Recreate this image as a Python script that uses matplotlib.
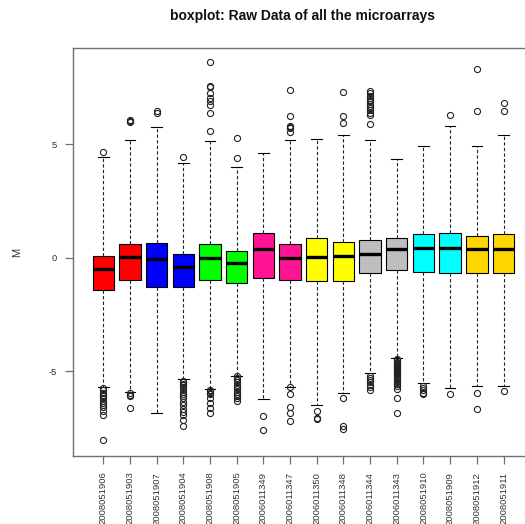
import matplotlib

matplotlib.use("Agg")

import matplotlib.pyplot as plt

plt.rcParams["font.family"] = ["Liberation Sans", "DejaVu Sans"]

# per-array summaries of M (log-ratio), one entry per microarray
samples = [
    "2008051906", "2008051903", "2008051907", "2008051904",
    "2008051908", "2008051905", "2006011349", "2006011347",
    "2006011350", "2006011348", "2006011344", "2006011343",
    "2008051910", "2008051909", "2008051912", "2008051911",
]
box_colors = [
    "#FF0000", "#FF0000", "#0000FF", "#0000FF",
    "#00FF00", "#00FF00", "#FF1493", "#FF1493",
    "#FFFF00", "#FFFF00", "#BEBEBE", "#BEBEBE",
    "#00FFFF", "#00FFFF", "#FFD700", "#FFD700",
]
medians = [-0.51, 0.03, -0.07, -0.40, -0.02, -0.22, 0.40, -0.02,
           0.03, 0.06, 0.18, 0.38, 0.45, 0.42, 0.38, 0.38]
q1 = [-1.40, -1.00, -1.28, -1.28, -1.00, -1.13, -0.90, -1.00,
      -1.03, -1.03, -0.66, -0.52, -0.62, -0.66, -0.68, -0.66]
q3 = [0.07, 0.63, 0.66, 0.15, 0.62, 0.28, 1.10, 0.59,
      0.88, 0.69, 0.79, 0.86, 1.06, 1.08, 0.98, 1.04]
whisker_lo = [-5.68, -5.90, -6.86, -5.36, -5.80, -5.21, -6.24, -5.68,
              -6.51, -5.95, -5.10, -4.44, -5.51, -5.73, -5.66, -5.66]
whisker_hi = [4.43, 5.18, 5.77, 4.18, 5.17, 3.99, 4.63, 5.18,
              5.26, 5.43, 5.21, 4.36, 4.92, 5.80, 4.92, 5.43]
outliers = [
    [4.67, -5.75, -5.85, -5.95, -6.05, -6.10, -6.20, -6.30, -6.40, -6.50,
     -6.60, -6.75, -6.95, -8.03],
    [6.00, 6.05, 6.10, -5.98, -6.04, -6.08, -6.61],
    [6.40, 6.46],
    [4.45, -5.45, -5.50, -5.55, -5.60, -5.70, -5.80, -5.90, -6.00, -6.10,
     -6.20, -6.35, -6.50, -6.65, -6.80, -6.95, -7.15, -7.40],
    [8.62, 7.60, 7.52, 7.27, 7.05, 6.93, 6.72, 6.39, 5.58, -5.82, -5.88,
     -5.95, -6.00, -6.17, -6.39, -6.61, -6.83],
    [5.27, 4.40, -5.22, -5.30, -5.40, -5.50, -5.60, -5.70, -5.80, -5.90,
     -6.00, -6.10, -6.20, -6.32],
    [-6.98, -7.61],
    [7.40, 6.24, 5.80, 5.76, 5.72, 5.53, -5.72, -6.02, -6.58, -6.83, -7.20],
    [-6.76, -7.05, -7.10],
    [7.31, 6.24, 5.95, -6.17, -7.42, -7.56],
    [7.34, 7.25, 7.15, 7.05, 6.95, 6.90, 6.80, 6.70, 6.60, 6.50, 6.40,
     6.30, 5.90, -5.20, -5.30, -5.40, -5.50, -5.60, -5.70, -5.85],
    [-4.47, -4.52, -4.58, -4.63, -4.68, -4.73, -4.78, -4.83, -4.88, -4.93,
     -4.98, -5.03, -5.08, -5.13, -5.18, -5.24, -5.30, -5.36, -5.42, -5.50,
     -5.58, -5.66, -5.80, -6.17, -6.83],
    [-5.65, -5.75, -5.85, -5.95, -6.02],
    [6.31, -6.02],
    [8.33, 6.46, -5.95, -6.65],
    [6.83, 6.46, -5.88],
]

stats = [
    dict(med=m, q1=lo, q3=hi, whislo=wl, whishi=wh, fliers=fl, label=name)
    for name, m, lo, hi, wl, wh, fl in zip(
        samples, medians, q1, q3, whisker_lo, whisker_hi, outliers
    )
]

frame_col = "#707070"
text_col = "#333333"

fig = plt.figure(figsize=(5.25, 5.24), dpi=100)
# plot region runs past the right edge of the canvas
ax = fig.add_axes([0.139, 0.1298, 0.878, 0.7786])

bp = ax.bxp(
    stats,
    positions=range(1, len(samples) + 1),
    widths=0.8,
    patch_artist=True,
    boxprops=dict(edgecolor="black", linewidth=0.8),
    medianprops=dict(color="black", linewidth=2.4, solid_capstyle="butt"),
    whiskerprops=dict(color="#222222", linewidth=0.8, linestyle=(0, (3, 2))),
    capprops=dict(color="black", linewidth=0.8),
    flierprops=dict(marker="o", markerfacecolor="none", markeredgecolor="#222222",
                    markersize=4.4, markeredgewidth=0.8, linestyle="none"),
)
for patch, col in zip(bp["boxes"], box_colors):
    patch.set_facecolor(col)

ax.set_xlim(-0.14, 17.14)
ax.set_ylim(-8.743, 9.255)
ax.set_yticks([-5, 0, 5])
ax.set_yticklabels(["-5", "0", "5"])
ax.set_xticks(range(1, len(samples) + 1))
ax.set_xticklabels(samples, rotation=90)

for side in ax.spines.values():
    side.set_color(frame_col)
    side.set_linewidth(1.0)
ax.tick_params(axis="both", direction="out", length=5.8, width=0.9,
               color=frame_col, pad=5.5, labelsize=6.8, labelcolor=text_col)

ax.set_ylabel("M", fontsize=8, color=text_col)
ax.yaxis.set_label_coords(-0.111, 0.5)

fig.text(302 / 525, 1 - 16 / 524, "boxplot: Raw Data of all the microarrays",
         ha="center", va="center", fontsize=10, fontweight="bold", color="#111111")

fig.savefig("out.png", dpi=100)
